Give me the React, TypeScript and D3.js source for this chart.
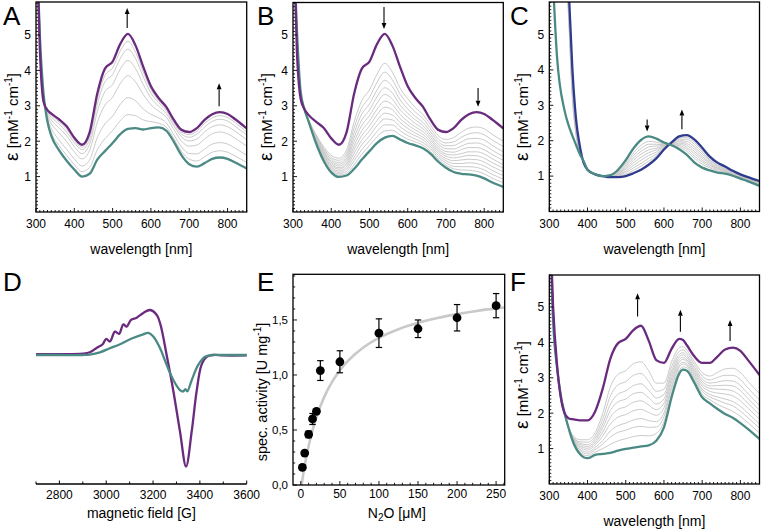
import React from 'react';
import * as d3 from 'd3';

// ---------- Panel A ----------
const wlA = [300,310,320,330,340,360,380,400,420,440,460,480,500,520,540,560,580,600,620,640,660,680,700,720,740,760,780,800,820,850];
const aPurple = [8.5,4.6,3.1,2.88,2.78,2.62,2.42,2.1,1.9,2.25,3.35,4.05,4.25,4.75,5.03,4.7,4.1,3.55,3.22,2.97,2.6,2.32,2.26,2.37,2.6,2.76,2.82,2.77,2.62,2.36];
const aTeal = [8.0,5.0,3.3,2.55,2.15,1.75,1.45,1.2,1.0,1.08,1.48,1.72,1.95,2.2,2.35,2.37,2.33,2.37,2.39,2.3,1.98,1.6,1.35,1.28,1.38,1.5,1.54,1.5,1.4,1.23];
const aGray1 = [8.4,4.63,3.12,2.85,2.73,2.55,2.34,2.03,1.83,2.16,3.2,3.86,4.07,4.55,4.82,4.51,3.96,3.46,3.15,2.91,2.55,2.26,2.19,2.28,2.5,2.66,2.72,2.67,2.52,2.26];
const aGray2 = [8.4,4.66,3.13,2.83,2.68,2.48,2.26,1.96,1.76,2.06,3.05,3.68,3.88,4.34,4.6,4.33,3.82,3.36,3.09,2.86,2.5,2.2,2.11,2.2,2.4,2.56,2.62,2.57,2.42,2.18];
const aGray3 = [8.35,4.71,3.16,2.79,2.6,2.38,2.15,1.85,1.65,1.92,2.83,3.4,3.6,4.04,4.28,4.05,3.6,3.22,2.99,2.78,2.43,2.12,2.01,2.06,2.26,2.41,2.46,2.41,2.28,2.04];
const aGray4 = [8.3,4.78,3.19,2.73,2.5,2.24,1.99,1.7,1.5,1.74,2.53,3.02,3.24,3.63,3.85,3.67,3.32,3.03,2.85,2.68,2.33,2.0,1.86,1.89,2.06,2.21,2.26,2.21,2.08,1.86];
const aGray5 = [8.2,4.87,3.23,2.66,2.36,2.04,1.77,1.5,1.3,1.47,2.1,2.49,2.71,3.04,3.23,3.14,2.91,2.76,2.66,2.52,2.18,1.84,1.65,1.64,1.78,1.92,1.96,1.92,1.8,1.6];
const aGray6 = [8.1,4.94,3.27,2.6,2.24,1.88,1.6,1.34,1.14,1.26,1.76,2.07,2.3,2.58,2.75,2.72,2.6,2.55,2.51,2.4,2.07,1.71,1.49,1.44,1.56,1.69,1.73,1.69,1.58,1.4];
const arrowsA = [{ wl: 538, from: 5.2, to: 5.76 }, { wl: 778, from: 2.99, to: 3.64 }];

// ---------- Panel B ----------
const wlB = wlA;
const bPurple = [8.5,4.6,3.2,2.9,2.75,2.55,2.38,2.08,1.9,2.25,3.35,4.05,4.25,4.75,5.03,4.7,4.1,3.55,3.22,2.97,2.6,2.32,2.26,2.37,2.6,2.76,2.82,2.77,2.62,2.36];
const bTeal = [8,5.2,3.4,2.9,2.58,1.95,1.45,1.12,0.99,1.03,1.22,1.48,1.72,1.95,2.1,2.15,2.05,1.95,1.88,1.8,1.64,1.42,1.25,1.13,1.08,1.06,1.03,0.95,0.84,0.71];
const bGray1 = [8,5.0,3.3,2.9,2.62,2.2,1.85,1.6,1.52,1.75,2.55,3.15,3.45,3.9,4.2,3.95,3.5,3.2,2.95,2.75,2.45,2.15,2.05,2.1,2.25,2.37,2.4,2.35,2.2,2.0];
const bGray2 = [8,5.02,3.31,2.9,2.62,2.17,1.8,1.54,1.46,1.66,2.39,2.95,3.24,3.67,3.95,3.73,3.33,3.05,2.82,2.64,2.35,2.06,1.95,1.98,2.11,2.21,2.24,2.18,2.04,1.85];
const bGray3 = [8,5.05,3.32,2.9,2.61,2.14,1.76,1.49,1.4,1.58,2.24,2.77,3.05,3.45,3.72,3.54,3.17,2.91,2.7,2.53,2.26,1.98,1.87,1.88,1.98,2.07,2.08,2.03,1.89,1.7];
const bGray4 = [8,5.07,3.33,2.9,2.61,2.12,1.72,1.44,1.35,1.51,2.11,2.6,2.88,3.26,3.51,3.36,3.02,2.79,2.6,2.44,2.18,1.91,1.79,1.78,1.86,1.94,1.95,1.89,1.75,1.57];
const bGray5 = [8,5.08,3.34,2.9,2.6,2.1,1.68,1.4,1.3,1.45,1.99,2.45,2.72,3.08,3.32,3.19,2.89,2.68,2.5,2.35,2.11,1.84,1.71,1.69,1.76,1.82,1.82,1.76,1.63,1.46];
const bGray6 = [8,5.1,3.35,2.9,2.6,2.07,1.65,1.36,1.25,1.38,1.87,2.3,2.57,2.91,3.13,3.03,2.76,2.56,2.4,2.27,2.04,1.78,1.64,1.61,1.65,1.7,1.7,1.64,1.51,1.34];
const bGray7 = [8,5.12,3.36,2.9,2.6,2.05,1.61,1.32,1.21,1.33,1.77,2.16,2.43,2.75,2.96,2.89,2.64,2.46,2.32,2.19,1.97,1.72,1.58,1.53,1.56,1.6,1.59,1.52,1.4,1.24];
const bGray8 = [8,5.13,3.37,2.9,2.59,2.03,1.58,1.28,1.16,1.27,1.66,2.03,2.29,2.59,2.79,2.74,2.53,2.36,2.23,2.11,1.91,1.66,1.51,1.45,1.47,1.49,1.48,1.41,1.29,1.14];
const bGray9 = [8,5.15,3.38,2.9,2.59,2.01,1.55,1.24,1.12,1.21,1.55,1.9,2.15,2.44,2.63,2.6,2.41,2.26,2.15,2.04,1.84,1.6,1.45,1.37,1.37,1.39,1.37,1.3,1.18,1.03];
const bGray10 = [8,5.17,3.38,2.9,2.59,1.99,1.52,1.2,1.08,1.15,1.45,1.76,2.01,2.28,2.46,2.46,2.3,2.16,2.06,1.96,1.78,1.54,1.39,1.29,1.28,1.28,1.26,1.19,1.07,0.93];
const bGray11 = [8,5.18,3.39,2.9,2.58,1.97,1.49,1.16,1.04,1.09,1.34,1.63,1.88,2.13,2.29,2.31,2.18,2.06,1.98,1.89,1.71,1.49,1.32,1.22,1.19,1.18,1.15,1.08,0.96,0.83];
const arrowsB = [{ wl: 538, from: 5.79, to: 5.17 }, { wl: 784, from: 3.5, to: 2.97 }];

// ---------- Panel C ----------
const wlC = [300,320,340,350,360,370,380,390,400,420,440,460,480,500,520,540,560,580,600,620,640,660,680,700,720,740,760,780,800,820,850];
const cTeal = [9,4.4,2.85,2.45,2.15,1.88,1.62,1.42,1.18,1.05,1.0,1.03,1.18,1.45,1.78,2.02,2.12,2.06,1.95,1.87,1.76,1.6,1.38,1.24,1.16,1.1,1.07,1.01,0.93,0.85,0.72];
const cBlue = [30,25,9,6.5,4.1,2.6,1.84,1.37,1.18,1.05,1.0,0.97,0.97,1.0,1.08,1.18,1.32,1.5,1.75,1.95,2.12,2.16,2.03,1.8,1.55,1.38,1.27,1.15,1.05,0.97,0.86];
const cGray1 = [30,22,8.8,6.3,3.95,2.5,1.8,1.38,1.18,1.05,1.0,0.98,1.0,1.05,1.16,1.28,1.42,1.57,1.77,1.94,2.08,2.09,1.95,1.73,1.5,1.35,1.25,1.13,1.04,0.96,0.84];
const cGray2 = [30,21,8.6,6.2,3.85,2.45,1.78,1.38,1.18,1.05,1.0,0.98,1.02,1.1,1.23,1.36,1.5,1.62,1.79,1.93,2.04,2.04,1.89,1.68,1.46,1.32,1.23,1.12,1.02,0.94,0.83];
const cGray3 = [30,20,8.4,6.1,3.75,2.4,1.76,1.39,1.18,1.05,1.0,0.99,1.04,1.14,1.3,1.45,1.58,1.68,1.81,1.92,2.0,1.98,1.82,1.62,1.43,1.29,1.21,1.11,1.01,0.93,0.82];
const cGray4 = [30,19,8.2,6.0,3.65,2.35,1.74,1.39,1.18,1.05,1.0,0.99,1.06,1.19,1.37,1.53,1.66,1.74,1.83,1.92,1.97,1.92,1.76,1.56,1.39,1.26,1.19,1.09,1.0,0.92,0.8];
const cGray5 = [30,18,8.0,5.9,3.55,2.3,1.72,1.4,1.18,1.05,1.0,1.0,1.08,1.23,1.44,1.62,1.74,1.79,1.85,1.91,1.93,1.87,1.69,1.51,1.35,1.23,1.17,1.08,0.99,0.91,0.79];
const cGray6 = [30,17,7.8,5.8,3.45,2.25,1.7,1.4,1.18,1.05,1.0,1.0,1.1,1.28,1.51,1.7,1.82,1.85,1.87,1.9,1.9,1.81,1.63,1.45,1.31,1.21,1.15,1.06,0.98,0.9,0.77];
const cGray7 = [30,16,7.6,5.7,3.35,2.2,1.68,1.41,1.18,1.05,1.0,1.01,1.12,1.32,1.58,1.78,1.9,1.9,1.89,1.89,1.86,1.76,1.56,1.4,1.27,1.18,1.13,1.05,0.96,0.88,0.76];
const cGray8 = [30,15,7.4,5.6,3.25,2.15,1.66,1.41,1.18,1.05,1.0,1.02,1.14,1.37,1.65,1.87,1.98,1.96,1.91,1.88,1.82,1.7,1.5,1.34,1.23,1.15,1.11,1.04,0.95,0.87,0.75];
const arrowsC = [{ wl: 556, from: 2.6, to: 2.26 }, { wl: 647, from: 2.32, to: 2.88 }];

// ---------- Panel F ----------
const wlF = [300,310,320,330,340,350,360,380,400,420,440,460,480,500,520,540,560,580,600,620,640,650,660,680,700,720,740,760,780,800,820,850];
const fPurple = [8,5.0,3.4,2.45,2.0,1.86,1.83,1.8,1.8,2.05,2.7,3.55,3.98,4.1,4.35,4.47,4.05,3.5,3.42,3.82,4.1,4.07,3.92,3.6,3.42,3.42,3.6,3.8,3.85,3.76,3.5,3.08];
const fTeal = [8,4.6,3.3,2.5,2.0,1.6,1.25,0.85,0.73,0.82,0.85,0.88,0.94,0.99,1.03,1.06,1.09,1.22,1.6,2.45,3.12,3.23,3.2,2.85,2.45,2.28,2.12,1.98,1.87,1.72,1.55,1.27];
const fGray1 = [8,4.7,3.3,2.45,1.95,1.6,1.4,1.25,1.25,1.45,2.0,2.75,3.1,3.2,3.4,3.45,3.2,2.85,2.85,3.45,3.85,3.88,3.78,3.45,3.15,3.05,3.15,3.25,3.27,3.15,2.9,2.55];
const fGray2 = [8,4.69,3.3,2.46,1.96,1.6,1.38,1.19,1.18,1.36,1.84,2.49,2.8,2.89,3.07,3.12,2.9,2.62,2.68,3.31,3.75,3.79,3.7,3.37,3.05,2.94,3.01,3.07,3.07,2.95,2.71,2.37];
const fGray3 = [8,4.67,3.3,2.46,1.96,1.6,1.36,1.15,1.11,1.29,1.7,2.26,2.54,2.63,2.78,2.83,2.65,2.43,2.53,3.19,3.66,3.71,3.63,3.29,2.97,2.85,2.88,2.92,2.91,2.78,2.55,2.22];
const fGray4 = [8,4.66,3.3,2.47,1.97,1.6,1.35,1.11,1.06,1.22,1.59,2.08,2.32,2.4,2.55,2.59,2.44,2.26,2.4,3.09,3.59,3.65,3.57,3.23,2.9,2.77,2.78,2.79,2.77,2.64,2.41,2.09];
const fGray5 = [8,4.65,3.3,2.47,1.97,1.6,1.33,1.07,1.01,1.16,1.47,1.89,2.11,2.18,2.31,2.35,2.23,2.1,2.28,2.99,3.51,3.58,3.51,3.17,2.83,2.7,2.68,2.67,2.63,2.49,2.28,1.96];
const fGray6 = [8,4.64,3.3,2.48,1.98,1.6,1.32,1.03,0.96,1.1,1.36,1.7,1.89,1.96,2.07,2.11,2.02,1.94,2.15,2.89,3.44,3.52,3.46,3.11,2.76,2.62,2.57,2.54,2.49,2.35,2.14,1.83];
const fGray7 = [8,4.63,3.3,2.48,1.98,1.6,1.3,0.98,0.9,1.03,1.23,1.5,1.65,1.72,1.81,1.85,1.79,1.76,2.01,2.78,3.36,3.44,3.39,3.05,2.68,2.53,2.46,2.4,2.33,2.19,2.0,1.69];
const fGray8 = [8,4.62,3.3,2.49,1.99,1.6,1.29,0.95,0.85,0.97,1.13,1.33,1.46,1.52,1.6,1.63,1.6,1.61,1.9,2.69,3.3,3.39,3.34,2.99,2.62,2.46,2.37,2.28,2.21,2.06,1.87,1.58];
const fGray9 = [8,4.61,3.3,2.49,1.99,1.6,1.27,0.9,0.8,0.9,1.0,1.12,1.22,1.28,1.34,1.37,1.36,1.43,1.76,2.58,3.21,3.31,3.28,2.93,2.54,2.38,2.25,2.15,2.05,1.91,1.73,1.44];
const arrowsF = [{ wl: 531, from: 4.73, to: 5.39 }, { wl: 643, from: 4.3, to: 4.92 }, { wl: 773, from: 4.04, to: 4.63 }];

// ---------- Panel D (EPR) ----------
const dPurpleField = [2700,2800,2900,2930,2960,2985,3000,3016,3037,3055,3073,3087,3106,3130,3160,3187,3216,3232,3258,3287,3315,3341,3365,3386,3407,3429,3457,3500,3600];
const dPurpleSignal = [0.02,0.02,0.03,0.06,0.16,0.24,0.36,0.3,0.52,0.47,0.68,0.63,0.78,0.83,0.94,1.0,0.89,0.67,0.0,-0.81,-1.7,-2.48,-1.7,-0.81,-0.22,-0.04,0.0,-0.01,-0.01];
const dTealField = [2700,2800,2900,2930,2973,3016,3059,3106,3158,3180,3201,3230,3258,3287,3315,3329,3338,3346,3365,3393,3422,3450,3500,3600];
const dTealSignal = [0.0,0.0,0.0,0.01,0.06,0.15,0.24,0.36,0.46,0.49,0.41,0.15,-0.22,-0.56,-0.78,-0.81,-0.76,-0.81,-0.56,-0.22,-0.04,0.0,0.0,0.0];
const dTicks = [2800, 3000, 3200, 3400, 3600];

// ---------- Panel E (kinetics) ----------
const eConc = [2,5,10,15,20,25,50,100,150,200,250];
const eActivity = [0.16,0.29,0.46,0.6,0.67,1.04,1.12,1.38,1.42,1.52,1.63];
const eError = [0.02,0.02,0.03,0.05,0.02,0.09,0.1,0.13,0.08,0.12,0.11];
const eFitX = [1,2,5,10,15,20,30,40,50,60,80,100,125,150,175,200,225,250,261];
const eFitY = [0,0.047,0.176,0.354,0.498,0.617,0.801,0.937,1.042,1.125,1.249,1.337,1.416,1.474,1.518,1.553,1.582,1.605,1.614];
const eXTicks = [0, 50, 100, 150, 200, 250];
const eYTicks = ['0,0', '0,5', '1,0', '1,5'];

const FONT = "'Liberation Sans', Arial, Helvetica, sans-serif";
const PURPLE = '#6a2a7e';
const TEAL = '#4b8a84';
const BLUE = '#2f3c8e';
const GRAY = '#c4c4c4';
const PX_PER_UNIT = 35.4;

type Arrow = { wl: number; from: number; to: number };
type Thick = { v: number[]; c: string };

function EpsTitle({ cx, cy }: { cx: number; cy: number }) {
  return (
    <text transform={`translate(${cx},${cy}) rotate(-90)`} textAnchor="middle" fontSize={15} fontFamily={FONT} style={{ whiteSpace: 'pre' }}>
      <tspan fontSize={19}>ε</tspan>
      <tspan> [mM</tspan>
      <tspan fontSize={10} dy={-6}>-1</tspan>
      <tspan dy={6}> cm</tspan>
      <tspan fontSize={10} dy={-6}>-1</tspan>
      <tspan dy={6}>]</tspan>
    </text>
  );
}

function ArrowMark({ x0, y0, y1 }: { x0: number; y0: number; y1: number }) {
  const dir = y1 > y0 ? 1 : -1;
  const hl = 6;
  return (
    <g>
      <line x1={x0} y1={y0} x2={x0} y2={y1 - dir * hl} stroke="#000" strokeWidth={1.1} />
      <polygon points={`${x0},${y1} ${x0 - 2.4},${y1 - dir * hl} ${x0 + 2.4},${y1 - dir * hl}`} fill="#000" />
    </g>
  );
}

function Spectrum(p: {
  id: string; left: number; right: number; top: number; bottom: number;
  wl: number[]; grays: number[][]; thick: Thick[]; arrows: Arrow[];
  letter: string; letterX: number; letterY: number; titleX: number; titleY: number;
}) {
  const x = d3.scaleLinear().domain([300, 850]).range([p.left, p.right]);
  const ymax = (p.bottom - p.top) / PX_PER_UNIT;
  const y = d3.scaleLinear().domain([0, ymax]).range([p.bottom, p.top]);
  const gen = d3.line<number>().x((_, i) => x(p.wl[i])).y((d) => y(Math.min(d, 40))).curve(d3.curveMonotoneX);
  const minorX = d3.range(300, 851, 10);
  const majorX = [300, 400, 500, 600, 700, 800];
  const minorY = d3.range(1, Math.floor(ymax * 10) + 1).map((i) => i / 10);
  const majorY = [1, 2, 3, 4, 5];
  const cx = (p.left + p.right) / 2;
  return (
    <g>
      <defs>
        <clipPath id={p.id}>
          <rect x={p.left} y={p.top} width={p.right - p.left} height={p.bottom - p.top} />
        </clipPath>
      </defs>
      <g clipPath={`url(#${p.id})`}>
        {p.grays.map((g, i) => (
          <path key={i} d={gen(g) || ''} fill="none" stroke={GRAY} strokeWidth={0.9} />
        ))}
        {p.thick.map((t, i) => (
          <path key={i} d={gen(t.v) || ''} fill="none" stroke={t.c} strokeWidth={2.3} strokeLinejoin="round" />
        ))}
      </g>
      <rect x={p.left} y={p.top} width={p.right - p.left} height={p.bottom - p.top} fill="none" stroke="#000" strokeWidth={1.3} />
      {minorX.map((v) => (
        <line key={'mx' + v} x1={x(v)} x2={x(v)} y1={p.bottom} y2={p.bottom - (v % 100 === 0 ? 4 : 2)} stroke="#000" strokeWidth={0.9} />
      ))}
      {minorY.map((v) => (
        <line key={'my' + v} x1={p.left} x2={p.left + (Math.abs(v - Math.round(v)) < 1e-6 ? 4 : 2)} y1={y(v)} y2={y(v)} stroke="#000" strokeWidth={0.9} />
      ))}
      {majorX.map((v) => (
        <text key={'tx' + v} x={x(v)} y={p.bottom + 16} textAnchor="middle" fontSize={12} fontFamily={FONT}>{v}</text>
      ))}
      {majorY.map((v) => (
        <text key={'ty' + v} x={p.left - 5} y={y(v) + 4.3} textAnchor="end" fontSize={12} fontFamily={FONT}>{v}</text>
      ))}
      <text x={cx} y={p.bottom + 42} textAnchor="middle" fontSize={14} fontFamily={FONT}>wavelength [nm]</text>
      <EpsTitle cx={p.titleX} cy={p.titleY} />
      <text x={p.letterX} y={p.letterY} fontSize={26} fontFamily={FONT}>{p.letter}</text>
      {p.arrows.map((a, i) => (
        <ArrowMark key={i} x0={x(a.wl)} y0={y(a.from)} y1={y(a.to)} />
      ))}
    </g>
  );
}

function EprPanel() {
  const left = 36, right = 246.7, axisY = 484;
  const x = d3.scaleLinear().domain([2700, 3600]).range([left, right]);
  const y = d3.scaleLinear().domain([0, 1]).range([355, 310]);
  const purple = d3.line<number>().x((_, i) => x(dPurpleField[i])).y((d) => y(d)).curve(d3.curveCatmullRom.alpha(0.5));
  const teal = d3.line<number>().x((_, i) => x(dTealField[i])).y((d) => y(d)).curve(d3.curveCatmullRom.alpha(0.5));
  const minor = d3.range(2700, 3601, 100);
  return (
    <g>
      <text x={3} y={291} fontSize={26} fontFamily={FONT}>D</text>
      <path d={purple(dPurpleSignal) || ''} fill="none" stroke={PURPLE} strokeWidth={2.3} strokeLinejoin="round" />
      <path d={teal(dTealSignal) || ''} fill="none" stroke={TEAL} strokeWidth={2.3} strokeLinejoin="round" />
      <line x1={left} x2={right} y1={axisY} y2={axisY} stroke="#000" strokeWidth={1.3} />
      {minor.map((v) => (
        <line key={v} x1={x(v)} x2={x(v)} y1={axisY} y2={axisY - (dTicks.includes(v) ? 3.5 : 2.5)} stroke="#000" strokeWidth={1} />
      ))}
      {dTicks.map((v) => (
        <text key={'l' + v} x={x(v)} y={499} textAnchor="middle" fontSize={12} fontFamily={FONT}>{v}</text>
      ))}
      <text x={(left + right) / 2} y={518} textAnchor="middle" fontSize={14} fontFamily={FONT}>magnetic field [G]</text>
    </g>
  );
}

function KineticsPanel() {
  const left = 293, right = 504.7, top = 274.3, bottom = 485;
  const x = d3.scaleLinear().domain([-10, 261]).range([left, right]);
  const y = d3.scaleLinear().domain([0, 1.915]).range([bottom, top]);
  const fit = d3.line<number>().x((_, i) => x(eFitX[i])).y((d) => y(d)).curve(d3.curveMonotoneX);
  const minorX = d3.range(0, 261, 10);
  const minorY = d3.range(0, 20).map((i) => i / 10);
  const yMajor = [0, 0.5, 1.0, 1.5];
  return (
    <g>
      <text x={257} y={291} fontSize={26} fontFamily={FONT}>E</text>
      <defs>
        <clipPath id="clipE"><rect x={left} y={top} width={right - left} height={bottom - top} /></clipPath>
      </defs>
      <path d={fit(eFitY) || ''} fill="none" stroke="#c9c9c9" strokeWidth={2.6} clipPath="url(#clipE)" />
      <rect x={left} y={top} width={right - left} height={bottom - top} fill="none" stroke="#000" strokeWidth={1.3} />
      {minorX.map((v) => (
        <line key={'x' + v} x1={x(v)} x2={x(v)} y1={bottom} y2={bottom - (v % 50 === 0 ? 4 : 2.2)} stroke="#000" strokeWidth={0.9} />
      ))}
      {minorY.map((v, i) => (
        <line key={'y' + i} x1={left} x2={left + (i % 5 === 0 ? 4 : 2.2)} y1={y(v)} y2={y(v)} stroke="#000" strokeWidth={0.9} />
      ))}
      {eXTicks.map((v) => (
        <text key={'lx' + v} x={x(v)} y={498} textAnchor="middle" fontSize={12} fontFamily={FONT}>{v}</text>
      ))}
      {yMajor.map((v, i) => (
        <text key={'ly' + i} x={left - 5} y={y(v) + 4} textAnchor="end" fontSize={11.5} fontFamily={FONT}>{eYTicks[i]}</text>
      ))}
      {eConc.map((c, i) => {
        const cx = x(c);
        const y1 = y(eActivity[i] + eError[i]);
        const y2 = y(eActivity[i] - eError[i]);
        return (
          <g key={'p' + i}>
            <line x1={cx} x2={cx} y1={y1} y2={y2} stroke="#000" strokeWidth={1.2} />
            <line x1={cx - 3.2} x2={cx + 3.2} y1={y1} y2={y1} stroke="#000" strokeWidth={1.2} />
            <line x1={cx - 3.2} x2={cx + 3.2} y1={y2} y2={y2} stroke="#000" strokeWidth={1.2} />
            <circle cx={cx} cy={y(eActivity[i])} r={4.4} fill="#000" />
          </g>
        );
      })}
      <text x={(left + right) / 2 - 2} y={518} textAnchor="middle" fontSize={14} fontFamily={FONT} style={{ whiteSpace: 'pre' }}>
        <tspan>N</tspan>
        <tspan fontSize={10} dy={3}>2</tspan>
        <tspan dy={-3}>O [μM]</tspan>
      </text>
      <text transform="translate(267,392) rotate(-90)" textAnchor="middle" fontSize={14.5} fontFamily={FONT} style={{ whiteSpace: 'pre' }}>
        <tspan>spec. activity [U mg</tspan>
        <tspan fontSize={10} dy={-6}>-1</tspan>
        <tspan dy={6}>]</tspan>
      </text>
    </g>
  );
}

export default function App() {
  return (
    <svg width={762} height={530} viewBox="0 0 762 530" style={{ position: 'absolute', left: 0, top: 0, background: '#fff' }}>
      <rect x={0} y={0} width={762} height={530} fill="#fff" />
      <Spectrum id="clipA" left={36} right={246.7} top={2} bottom={212} wl={wlA}
        grays={[aGray1, aGray2, aGray3, aGray4, aGray5, aGray6]}
        thick={[{ v: aTeal, c: TEAL }, { v: aPurple, c: PURPLE }]}
        arrows={arrowsA} letter="A" letterX={3} letterY={25} titleX={18} titleY={117} />
      <Spectrum id="clipB" left={293} right={503.3} top={2.5} bottom={212} wl={wlB}
        grays={[bGray1, bGray2, bGray3, bGray4, bGray5, bGray6, bGray7, bGray8, bGray9, bGray10, bGray11]}
        thick={[{ v: bTeal, c: TEAL }, { v: bPurple, c: PURPLE }]}
        arrows={arrowsB} letter="B" letterX={257} letterY={25} titleX={272} titleY={117} />
      <Spectrum id="clipC" left={549.3} right={759.5} top={2} bottom={211.5} wl={wlC}
        grays={[cGray1, cGray2, cGray3, cGray4, cGray5, cGray6, cGray7, cGray8]}
        thick={[{ v: cBlue, c: BLUE }, { v: cTeal, c: TEAL }]}
        arrows={arrowsC} letter="C" letterX={510} letterY={25} titleX={528} titleY={117} />
      <Spectrum id="clipF" left={549.3} right={759.5} top={275} bottom={484} wl={wlF}
        grays={[fGray1, fGray2, fGray3, fGray4, fGray5, fGray6, fGray7, fGray8, fGray9]}
        thick={[{ v: fTeal, c: TEAL }, { v: fPurple, c: PURPLE }]}
        arrows={arrowsF} letter="F" letterX={510} letterY={291} titleX={528} titleY={385} />
      <EprPanel />
      <KineticsPanel />
    </svg>
  );
}
